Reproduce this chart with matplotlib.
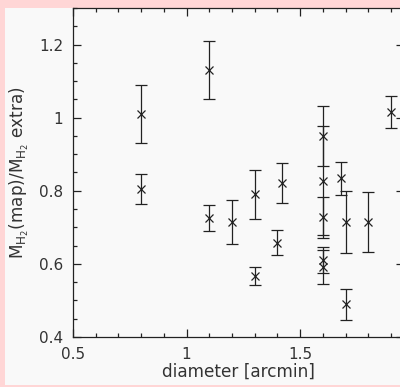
import matplotlib
matplotlib.use("Agg")
import matplotlib.pyplot as plt
from matplotlib.patches import Rectangle
from matplotlib.ticker import MultipleLocator, FuncFormatter

# ── data ──────────────────────────────────────────────────────────────────────
diameter = [0.8, 0.8, 1.1, 1.1, 1.2, 1.3, 1.3, 1.42, 1.4,
            1.6, 1.6, 1.6, 1.6, 1.6, 1.68, 1.7, 1.7, 1.8, 1.9]
ratio    = [1.01, 0.805, 1.13, 0.725, 0.715, 0.567, 0.79, 0.822, 0.658,
            0.951, 0.828, 0.727, 0.611, 0.591, 0.834, 0.714, 0.489, 0.715, 1.015]
ratio_err = [0.08, 0.04, 0.08, 0.036, 0.06, 0.025, 0.067, 0.055, 0.035,
             0.082, 0.15, 0.057, 0.035, 0.047, 0.046, 0.085, 0.042, 0.082, 0.044]

# ── style ─────────────────────────────────────────────────────────────────────
PINK  = "#ffd6d6"
PANEL = "#f9f9f9"
INK   = "#222222"
TXT   = "#333333"

plt.rcParams["font.family"] = ["DejaVu Sans"]
plt.rcParams["mathtext.fontset"] = "dejavusans"

W, H = 400, 387
fig = plt.figure(figsize=(W / 100, H / 100), dpi=100)
fig.patch.set_facecolor(PINK)
fig.patches.append(Rectangle((5 / W, 2 / H), 395 / W, 377 / H,
                             transform=fig.transFigure, facecolor=PANEL,
                             edgecolor="none", zorder=-10))

# axes runs off the right edge of the image, like the original crop
ax = fig.add_axes([73 / W, (H - 337) / H, (403.5 - 73) / W, (337 - 8) / H])
ax.set_facecolor(PANEL)

ax.errorbar(diameter, ratio, yerr=ratio_err, fmt="x", color=INK,
            ecolor=INK, elinewidth=0.9, capsize=4, capthick=0.9,
            markersize=5.5, markeredgewidth=0.9)

ax.set_xlim(0.5, 1.955)
ax.set_ylim(0.4, 1.3)
ax.xaxis.set_major_locator(MultipleLocator(0.5))
ax.xaxis.set_minor_locator(MultipleLocator(0.1))
ax.yaxis.set_major_locator(MultipleLocator(0.2))
ax.yaxis.set_minor_locator(MultipleLocator(0.05))
fmt = FuncFormatter(lambda v, p: f"{v:g}")
ax.xaxis.set_major_formatter(fmt)
ax.yaxis.set_major_formatter(fmt)

ax.tick_params(which="both", direction="in", top=True, right=True,
               color=INK, width=0.9, labelcolor=TXT, labelsize=11)
ax.tick_params(which="major", length=5.5, pad=7)
ax.tick_params(which="minor", length=2.8)

for sp in ax.spines.values():
    sp.set_color(INK)
    sp.set_linewidth(0.9)

ax.set_xlabel("diameter [arcmin]", fontsize=12.2, color=TXT, labelpad=1)
ax.set_ylabel(r"M$_{\mathrm{H}_2}$(map)/M$_{\mathrm{H}_2}$ extra)",
              fontsize=12.2, color=TXT, labelpad=6)

fig.savefig("out.png", dpi=100, facecolor=PINK)
